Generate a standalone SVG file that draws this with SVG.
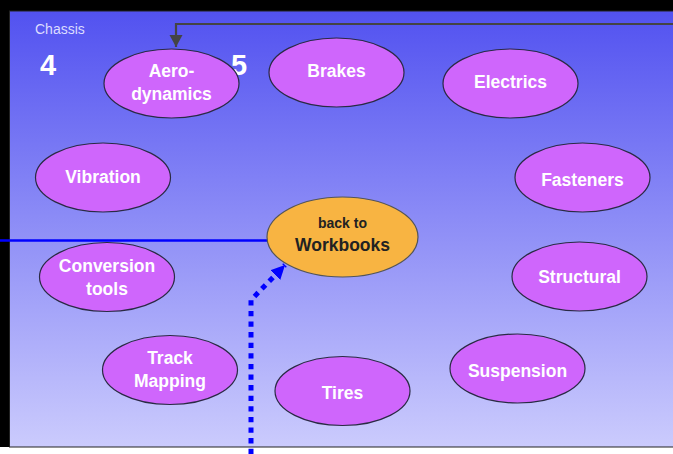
<svg xmlns="http://www.w3.org/2000/svg" width="673" height="454" viewBox="0 0 673 454">
<defs>
<linearGradient id="bg" x1="0" y1="0" x2="0" y2="1">
<stop offset="0" stop-color="#5252f0"/>
<stop offset="1" stop-color="#cbcbfd"/>
</linearGradient>
<marker id="grayArrow" markerUnits="userSpaceOnUse" markerWidth="14" markerHeight="14" refX="12" refY="7" orient="auto" viewBox="0 0 14 14">
<path d="M0,0.5 L12,7 L0,13.5 Z" fill="#444"/>
</marker>
<marker id="blueArrow" markerUnits="userSpaceOnUse" markerWidth="16" markerHeight="14" refX="14" refY="7" orient="auto" viewBox="0 0 16 14">
<path d="M0,0 L14,7 L0,14 Z" fill="#0000ff"/>
</marker>
</defs>
<style>
.topic{fill:#cf66fc;stroke:#2a2a44;stroke-width:1.2}
.home{fill:#f8b442;stroke:#555;stroke-width:1.2}
.lbl{font-family:"Liberation Sans",Arial,sans-serif;font-weight:bold;font-size:17.5px;fill:#ffffff;text-anchor:middle}
.dark{font-family:"Liberation Sans",Arial,sans-serif;font-weight:bold;fill:#222;text-anchor:middle}
.num{font-family:"Liberation Sans",Arial,sans-serif;font-weight:bold;font-size:29px;fill:#ffffff}
</style>
<rect x="0" y="0" width="673" height="454" fill="#ffffff"/>
<rect x="0" y="0" width="673" height="11" fill="#000"/>
<rect x="0" y="0" width="9" height="447" fill="#000"/>
<rect x="9.5" y="11" width="670" height="436" fill="url(#bg)" stroke="#222" stroke-width="1"/>
<text x="35" y="34" font-family="Liberation Sans, Arial, sans-serif" font-size="14" fill="#dcdcff">Chassis</text>
<text class="num" x="40" y="75">4</text>
<text class="num" x="231" y="75">5</text>
<g id="connectors">
<polyline points="673,24 176,24 176,47" fill="none" stroke="#444" stroke-width="2.2" marker-end="url(#grayArrow)"/>
<line x1="0" y1="240.5" x2="275" y2="240.5" stroke="#0000ff" stroke-width="2.5"/>
<polyline points="251,454 251,300 285,265" fill="none" stroke="#0000ff" stroke-width="5" stroke-dasharray="5.3 5.3" marker-end="url(#blueArrow)"/>
</g>
<g id="aerodynamics"><ellipse class="topic" cx="171.5" cy="83.5" rx="67.5" ry="34.5"/><text class="lbl" x="171.5" y="77">Aero-</text><text class="lbl" x="171.5" y="100">dynamics</text></g>
<g id="brakes"><ellipse class="topic" cx="336.5" cy="72.5" rx="67.5" ry="34.5"/><text class="lbl" x="336.5" y="77">Brakes</text></g>
<g id="electrics"><ellipse class="topic" cx="510.5" cy="83.5" rx="67.5" ry="34.5"/><text class="lbl" x="510.5" y="88">Electrics</text></g>
<g id="vibration"><ellipse class="topic" cx="103" cy="177.5" rx="67.5" ry="34.5"/><text class="lbl" x="103" y="183">Vibration</text></g>
<g id="fasteners"><ellipse class="topic" cx="582.5" cy="177.5" rx="67.5" ry="34.5"/><text class="lbl" x="582.5" y="186">Fasteners</text></g>
<g id="workbooks"><ellipse class="home" cx="342.5" cy="237" rx="75.5" ry="40"/><text class="dark" x="342.5" y="228" font-size="14">back to</text><text class="dark" x="342.5" y="251" font-size="17.5">Workbooks</text></g>
<g id="conversion"><ellipse class="topic" cx="107" cy="277" rx="67.5" ry="34.5"/><text class="lbl" x="107" y="272">Conversion</text><text class="lbl" x="107" y="295">tools</text></g>
<g id="structural"><ellipse class="topic" cx="579.5" cy="276.5" rx="67.5" ry="34.5"/><text class="lbl" x="579.5" y="283">Structural</text></g>
<g id="trackmapping"><ellipse class="topic" cx="170" cy="370" rx="67.5" ry="34.5"/><text class="lbl" x="170" y="364">Track</text><text class="lbl" x="170" y="387">Mapping</text></g>
<g id="tires"><ellipse class="topic" cx="342.5" cy="391" rx="67.5" ry="34.5"/><text class="lbl" x="342.5" y="399">Tires</text></g>
<g id="suspension"><ellipse class="topic" cx="517.5" cy="368.5" rx="67.5" ry="34.5"/><text class="lbl" x="517.5" y="377">Suspension</text></g>
</svg>
